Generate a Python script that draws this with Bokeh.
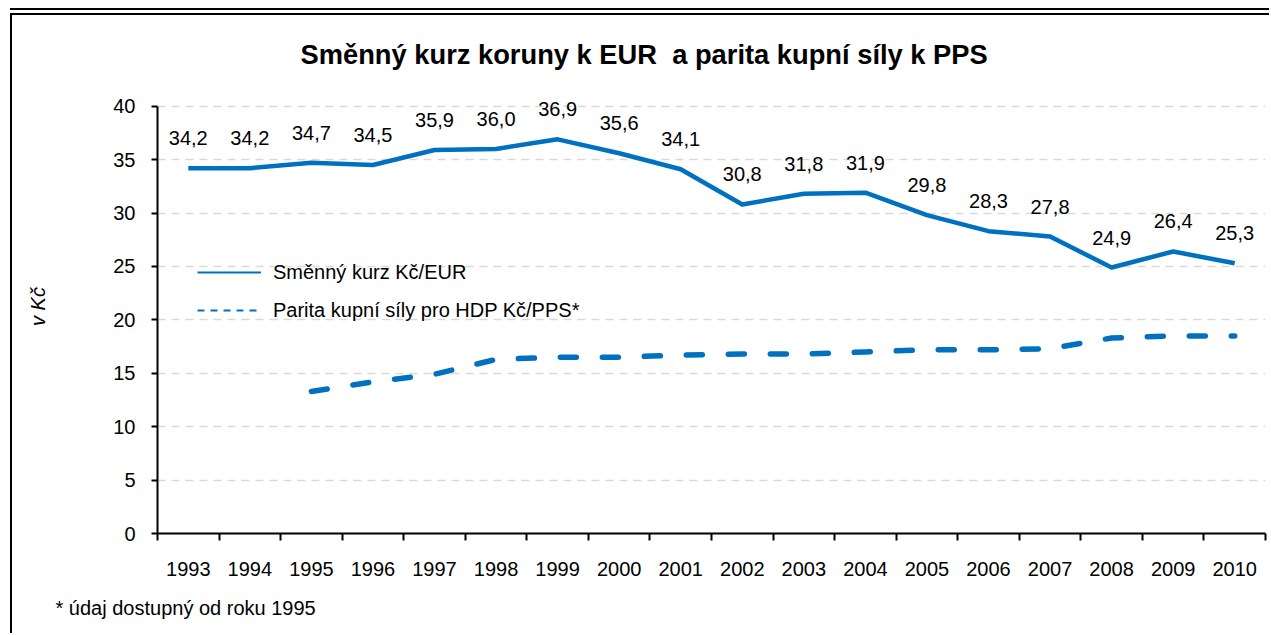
from bokeh.plotting import figure
from bokeh.models import (ColumnDataSource, Range1d, FixedTicker, LabelSet,
                          Legend, LegendItem, Title)
from bokeh.core.properties import value
from bokeh.embed import file_html
from bokeh.resources import INLINE

years = list(range(1993, 2011))
kurz = [34.2, 34.2, 34.7, 34.5, 35.9, 36.0, 36.9, 35.6, 34.1, 30.8, 31.8, 31.9,
        29.8, 28.3, 27.8, 24.9, 26.4, 25.3]
ppp_years = list(range(1995, 2011))
ppp = [13.3, 14.2, 14.9, 16.3, 16.5, 16.5, 16.7, 16.8, 16.8, 17.0, 17.2, 17.2,
       17.3, 18.3, 18.5, 18.5]
y_ticks = [0, 5, 10, 15, 20, 25, 30, 35, 40]

title_text = "Směnný kurz koruny k EUR\u00a0 a parita kupní síly k PPS"
legend_kurz = "Směnný kurz Kč/EUR"
legend_ppp = "Parita kupní síly pro HDP Kč/PPS*"
footnote = "* údaj dostupný od roku 1995"
y_label = "v Kč"

BLUE = "#0070C0"
FONT = "Liberation Sans"

src = ColumnDataSource(dict(x=years, y=kurz,
                            lab=[f"{v:.1f}".replace(".", ",") for v in kurz]))
src_ppp = ColumnDataSource(dict(x=ppp_years, y=ppp))

p = figure(width=1259, height=620, output_backend="svg", toolbar_location=None,
           x_range=Range1d(years[0] - 0.5, years[-1] + 0.5),
           y_range=Range1d(y_ticks[0], y_ticks[-1] + 2.5),
           min_border_left=145, min_border_right=6, min_border_top=64,
           min_border_bottom=102)
p.styles = {"border-left": "2px solid black", "border-top": "2px solid black",
            "margin-left": "10px", "margin-top": "13px",
            "box-shadow": "0 -3px 0 0 white, 0 -5px 0 0 black"}
p.outline_line_color = None
p.background_fill_color = "white"
p.border_fill_color = "white"

# axes
p.xaxis.ticker = FixedTicker(ticks=years,
                             minor_ticks=[y - 0.5 for y in years] + [years[-1] + 0.5])
p.xaxis.major_tick_out = 0
p.xaxis.major_tick_in = 0
p.xaxis.minor_tick_out = 7
p.xaxis.minor_tick_in = 0
p.xaxis.minor_tick_line_color = "black"
p.xaxis.minor_tick_line_width = 2
p.xaxis.major_label_standoff = 21
p.yaxis.ticker = FixedTicker(ticks=y_ticks)
p.yaxis.bounds = (y_ticks[0], y_ticks[-1])
p.yaxis.major_tick_out = 6
p.yaxis.major_tick_in = 0
p.yaxis.major_label_standoff = 16
p.yaxis.axis_label = y_label
p.yaxis.axis_label_text_font_style = "italic"
p.yaxis.axis_label_standoff = 61
for ax in (p.xaxis, p.yaxis):
    ax.axis_line_color = "black"
    ax.axis_line_width = 2
    ax.major_tick_line_color = "black"
    ax.major_tick_line_width = 2
    ax.major_label_text_font = FONT
    ax.major_label_text_font_size = "20px"
    ax.major_label_text_color = "black"
    ax.axis_label_text_font = FONT
    ax.axis_label_text_font_size = "20px"
    ax.axis_label_text_color = "black"

p.xgrid.visible = False
p.ygrid.grid_line_color = "#d9d9d9"
p.ygrid.grid_line_width = 1.5
p.ygrid.grid_line_dash = "8 6"

# lines
p.line("x", "y", source=src_ppp, line_color=BLUE, line_width=5.5,
       line_dash="16 26", line_cap="round")
p.line("x", "y", source=src, line_color=BLUE, line_width=4.5, line_join="round")

labels = LabelSet(x="x", y="y", text="lab", source=src, y_offset=23,
                  text_align="center", text_baseline="alphabetic",
                  text_font=value(FONT), text_font_size=value("20px"),
                  text_color="black")
p.add_layout(labels)

# legend with thin sample lines (renderers carry no visible data)
nan = float("nan")
leg1 = p.line(x=[years[0]], y=[nan], line_color=BLUE, line_width=2)
leg2 = p.line(x=[years[0]], y=[nan], line_color=BLUE, line_width=2, line_dash="7 6")
legend = Legend(items=[LegendItem(label=legend_kurz, renderers=[leg1]),
                       LegendItem(label=legend_ppp, renderers=[leg2])],
                location=(40, 211), border_line_color=None,
                background_fill_alpha=0, label_text_font=FONT,
                label_text_font_size="20px", label_text_color="black",
                glyph_width=64, glyph_height=24, spacing=14, padding=0,
                margin=0, label_standoff=12)
p.add_layout(legend)

# title and footnote
p.title.text = title_text
p.title.align = "left"
p.title.offset = 143
p.title.standoff = 20
p.title.text_font = FONT
p.title.text_font_size = "27.3px"
p.title.text_font_style = "bold"
p.title.text_color = "black"

p.add_layout(Title(text=footnote, align="left", offset=-102, standoff=33,
                   text_font=FONT, text_font_size="20px", text_font_style="normal",
                   text_color="black"), "below")

open("out.html", "w").write(file_html(p, INLINE))
